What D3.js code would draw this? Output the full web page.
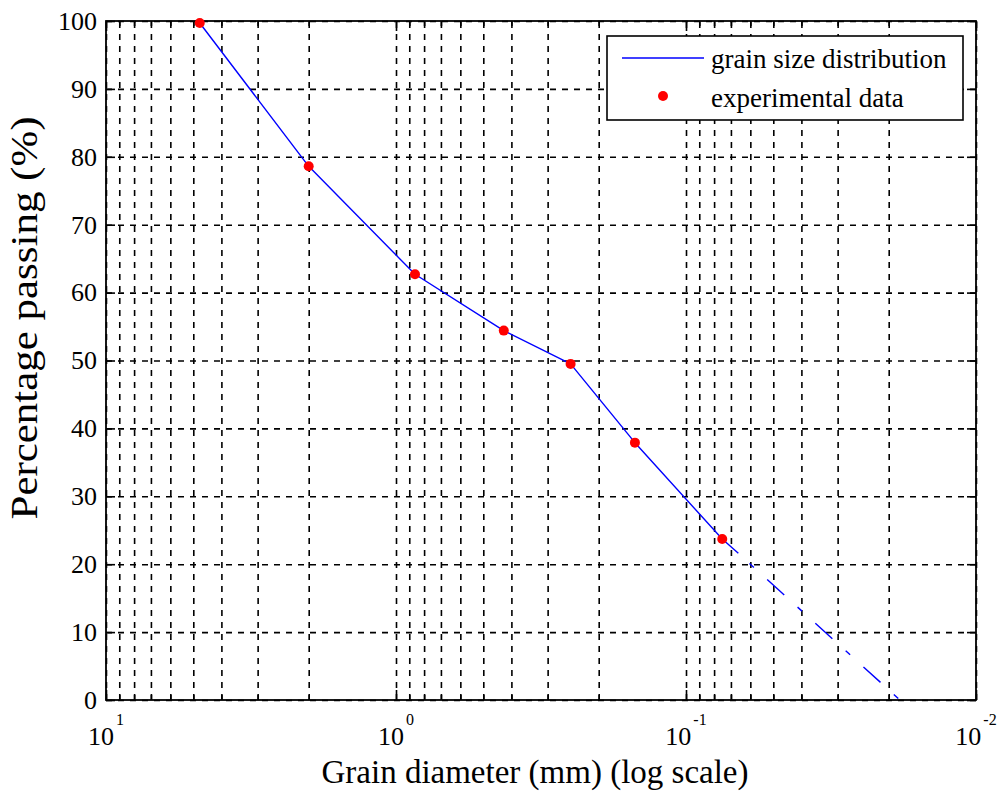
<!DOCTYPE html>
<html>
<head>
<meta charset="utf-8">
<script src="https://cdn.jsdelivr.net/npm/d3@7"></script>
<style>
  body { margin: 0; background: #fff; }
  text { font-family: "Liberation Serif", "Times New Roman", serif; fill: #000; }
</style>
</head>
<body>
<script>
// Step 1: chart data
// =================================
var diameters = [4.75, 2.0, 0.86, 0.425, 0.25, 0.15, 0.075];
var passing = [99.7, 78.6, 62.7, 54.4, 49.5, 37.9, 23.7];

// extrapolated part of the fitted curve
var solidEnd = [0.066, 21.6];
var dashDiameters = [0.066, 0.0183];
var dashPassing = [21.6, 0];

var yTicks = [0, 10, 20, 30, 40, 50, 60, 70, 80, 90, 100];
var xExponents = [1, 0, -1, -2];
var minorMultipliers = [2, 3, 4, 5, 6, 7, 8, 9];

var legendLabels = ["grain size distribution", "experimental data"];

// Step 2: set up the chart
// =================================
var svgWidth = 1003;
var svgHeight = 796;

var margin = { top: 21, right: 27, bottom: 96, left: 106 };
var width = svgWidth - margin.left - margin.right;
var height = svgHeight - margin.top - margin.bottom;

var svg = d3.select("body")
  .append("svg")
  .attr("width", svgWidth)
  .attr("height", svgHeight);

var chartGroup = svg.append("g")
  .attr("transform", `translate(${margin.left}, ${margin.top})`);

// Step 3: scales
// =================================
var xLogScale = d3.scaleLog()
  .domain([10, 0.01])
  .range([0, width]);

var yLinearScale = d3.scaleLinear()
  .domain([0, 100])
  .range([height, 0]);

var majorTicks = xExponents.map(e => Math.pow(10, e));
var minorTicks = [];
xExponents.slice(1).forEach(function(e) {
  minorMultipliers.forEach(m => minorTicks.push(m * Math.pow(10, e)));
});
var allXTicks = majorTicks.concat(minorTicks);

// Step 4: grid lines (dashed)
// =================================
chartGroup.append("g")
  .attr("class", "grid")
  .attr("transform", `translate(0, ${height})`)
  .call(d3.axisBottom(xLogScale).tickValues(allXTicks).tickSize(-height).tickFormat(""))
  .call(g => g.select(".domain").remove());

chartGroup.append("g")
  .attr("class", "grid")
  .call(d3.axisLeft(yLinearScale).tickValues(yTicks).tickSize(-width).tickFormat(""))
  .call(g => g.select(".domain").remove());

chartGroup.selectAll(".grid line")
  .attr("stroke", "#000")
  .attr("stroke-width", 1.6)
  .attr("stroke-dasharray", "6,6");

// Step 5: axes (ticks inside, box on)
// =================================
function tickAxes(axisFn, ticks, size, transform) {
  chartGroup.append("g")
    .attr("class", "ticks")
    .attr("transform", transform)
    .call(axisFn.tickValues(ticks).tickSize(size).tickFormat(""))
    .call(g => g.select(".domain").remove());
}

tickAxes(d3.axisBottom(xLogScale), majorTicks, -10, `translate(0, ${height})`);
tickAxes(d3.axisBottom(xLogScale), minorTicks, -5, `translate(0, ${height})`);
tickAxes(d3.axisTop(xLogScale), majorTicks, -10, "translate(0, 0)");
tickAxes(d3.axisTop(xLogScale), minorTicks, -5, "translate(0, 0)");
tickAxes(d3.axisLeft(yLinearScale), yTicks, -9, "translate(0, 0)");
tickAxes(d3.axisRight(yLinearScale), yTicks, -9, `translate(${width}, 0)`);

chartGroup.selectAll(".ticks line")
  .attr("stroke", "#000")
  .attr("stroke-width", 1.6);

chartGroup.append("rect")
  .attr("width", width)
  .attr("height", height)
  .attr("fill", "none")
  .attr("stroke", "#000")
  .attr("stroke-width", 1.8);

// tick labels
chartGroup.selectAll(".ylabel")
  .data(yTicks)
  .enter()
  .append("text")
  .attr("class", "ylabel")
  .attr("x", -9)
  .attr("y", d => yLinearScale(d))
  .attr("dy", "0.34em")
  .attr("text-anchor", "end")
  .style("font-size", "26px")
  .text(d => d);

var xLabels = chartGroup.selectAll(".xlabel")
  .data(xExponents)
  .enter()
  .append("text")
  .attr("class", "xlabel")
  .attr("x", d => xLogScale(Math.pow(10, d)))
  .attr("y", height + 45)
  .attr("text-anchor", "middle")
  .style("font-size", "26px");

xLabels.append("tspan").text("10");
xLabels.append("tspan")
  .attr("dy", -20)
  .attr("dx", 2)
  .style("font-size", "16px")
  .text(d => d);

// axis titles
svg.append("text")
  .attr("x", 535)
  .attr("y", 783)
  .attr("text-anchor", "middle")
  .style("font-size", "33px")
  .text("Grain diameter (mm) (log scale)");

svg.append("text")
  .attr("transform", "translate(37, 318) rotate(-90)")
  .attr("text-anchor", "middle")
  .attr("textLength", 403)
  .attr("lengthAdjust", "spacingAndGlyphs")
  .style("font-size", "37px")
  .text("Percentage passing (%)");

// Step 6: curve and points
// =================================
var curveData = diameters.map((d, i) => [d, passing[i]]).concat([solidEnd]);

var fitLine = d3.line()
  .x(d => xLogScale(d[0]))
  .y(d => yLinearScale(d[1]));

chartGroup.append("path")
  .attr("d", fitLine(curveData))
  .attr("fill", "none")
  .attr("stroke", "#0000ff")
  .attr("stroke-width", 1.4)
  .attr("stroke-linejoin", "round");

chartGroup.append("path")
  .attr("d", fitLine(dashDiameters.map((d, i) => [d, dashPassing[i]])))
  .attr("fill", "none")
  .attr("stroke", "#0000ff")
  .attr("stroke-width", 1.4)
  .attr("stroke-dasharray", "23,18,6,18")
  .attr("stroke-dashoffset", 26);

chartGroup.selectAll(".point")
  .data(diameters)
  .enter()
  .append("circle")
  .attr("class", "point")
  .attr("cx", d => xLogScale(d))
  .attr("cy", (d, i) => yLinearScale(passing[i]))
  .attr("r", 5)
  .attr("fill", "#ff0000");

// Step 7: legend
// =================================
var legend = svg.append("g")
  .attr("transform", "translate(607, 36)");

legend.append("rect")
  .attr("width", 356)
  .attr("height", 84)
  .attr("fill", "#fff")
  .attr("stroke", "#000")
  .attr("stroke-width", 1.6);

legend.append("line")
  .attr("x1", 15)
  .attr("x2", 97)
  .attr("y1", 22)
  .attr("y2", 22)
  .attr("stroke", "#0000ff")
  .attr("stroke-width", 1.6);

legend.append("circle")
  .attr("cx", 56)
  .attr("cy", 60)
  .attr("r", 5)
  .attr("fill", "#ff0000");

legend.selectAll(".legtext")
  .data(legendLabels)
  .enter()
  .append("text")
  .attr("class", "legtext")
  .attr("x", 104)
  .attr("y", (d, i) => 32 + i * 39)
  .style("font-size", "27px")
  .text(d => d);
</script>
</body>
</html>
